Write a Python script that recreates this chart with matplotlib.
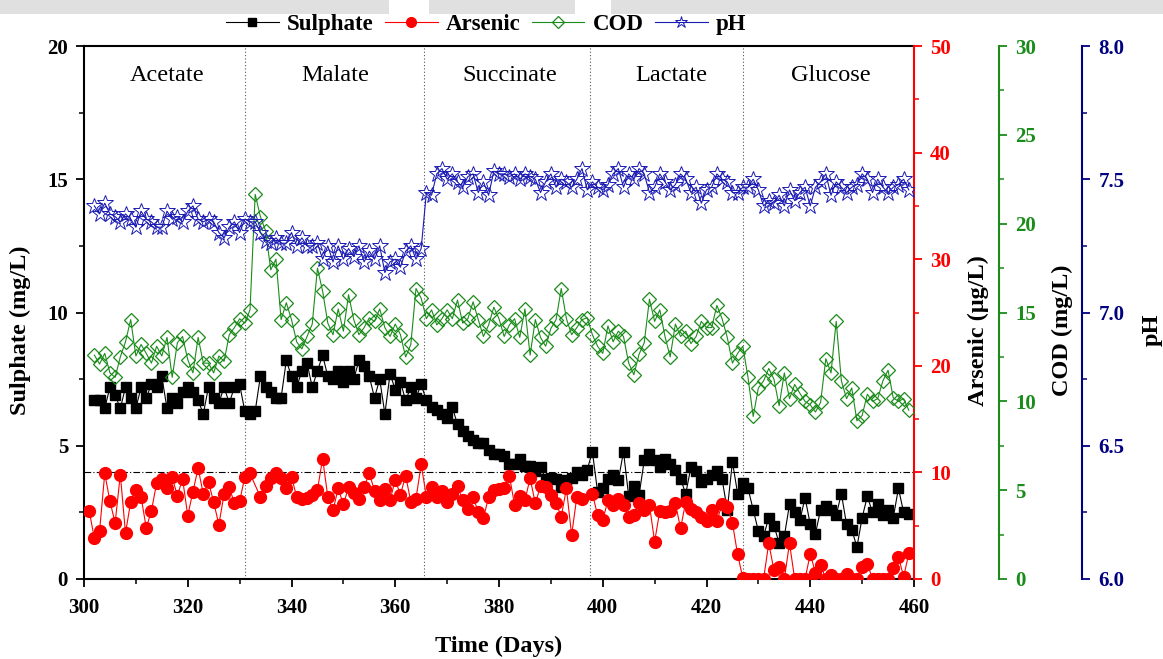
import numpy as np
import matplotlib
matplotlib.use('Agg')
import matplotlib.pyplot as plt
from matplotlib.ticker import MultipleLocator, FormatStrFormatter
from matplotlib.lines import Line2D
from matplotlib.patches import Rectangle
import matplotlib.transforms as mtransforms

# ---------------- data ----------------
days = np.arange(302, 460)                       # sulphate, COD, pH sampling days
arsenic_days = np.r_[301:333, 334:397, 398:460]  # arsenic sampling days

sulphate = [6.7, 6.7, 6.4, 7.2, 6.9, 6.4, 7.2, 6.8, 6.4, 7.2, 6.8, 7.3, 7.2, 7.6, 6.4, 6.8,
            6.6, 7.0, 7.2, 7.0, 6.7, 6.2, 7.2, 6.8, 6.6, 7.2, 6.6, 7.2, 7.3, 6.3, 6.2,
            6.3,
            7.6, 7.2, 7.0, 6.8, 6.8, 8.2, 7.6, 7.2, 7.8, 8.1, 7.2, 7.8, 8.4, 7.6, 7.5,
            7.8, 7.4, 7.8, 7.5, 8.2, 8.0, 7.6, 6.8, 7.5, 6.2, 7.7, 7.1, 7.4, 6.7, 7.2,
            6.8, 7.3,
            6.7, 6.45, 6.35, 6.2, 6.05, 6.45, 5.8, 5.55, 5.35, 5.2, 5.1, 5.1, 4.85, 4.7,
            4.7, 4.6, 4.3, 4.3, 4.5, 4.25, 4.25, 4.05, 4.2, 3.75, 3.8, 3.75, 3.45, 3.7,
            3.8, 4.0, 3.9,
            4.1, 4.78, 3.28, 3.4, 3.75, 3.9, 3.7, 4.78, 3.1, 3.5, 3.15, 4.45, 4.7, 4.45,
            4.2, 4.5, 4.3, 4.1, 3.75, 3.2, 4.2, 4.05, 3.65, 3.75, 3.9, 4.05, 3.75, 2.6, 4.4,
            3.2, 3.6, 3.4, 2.6,
            1.8, 1.6, 2.3, 2.0, 1.35, 1.6, 2.8, 2.5, 2.2, 3.05, 2.05, 1.7, 2.6, 2.75, 2.6,
            2.4, 3.2, 2.05, 1.85, 1.2, 2.3, 3.1, 2.5, 2.8, 2.4, 2.6, 2.3, 3.4, 2.5, 2.45]

arsenic = [6.4, 3.8, 4.5, 9.9, 7.3, 5.25, 9.8, 4.3, 7.25, 8.35, 7.7, 4.8, 6.4, 9.0, 9.4, 8.5,
           9.55, 7.8, 9.4, 5.95, 8.2, 10.4, 7.95, 9.1, 7.2, 5.1, 7.95, 8.6, 7.1, 7.3, 9.55, 9.9,
           7.7, 8.75, 9.5, 9.9, 9.45, 8.5, 9.6, 7.7, 7.55, 7.6, 7.9, 8.35, 11.3, 7.7, 6.45,
           8.5, 7.0, 8.6, 8.1, 7.55, 8.65, 9.9, 8.3, 7.4, 8.4, 7.4, 9.3, 7.9, 9.7, 7.25, 7.55,
           10.75,
           7.7, 8.6, 7.7, 8.3, 7.25, 8.0, 8.7, 7.4, 6.6, 7.7, 6.3, 5.7, 7.7, 8.35, 8.4, 8.5,
           9.7, 6.95, 7.8, 7.4, 9.45, 7.1, 8.7, 8.6, 7.9, 7.1, 5.85, 8.5, 4.1, 7.7,
           7.55,
           8.0, 6.0, 5.5, 7.4, 6.95, 7.55, 6.95, 5.85, 6.0, 7.1, 6.45, 6.95, 3.5, 6.4, 6.3,
           6.4, 7.1, 4.75, 7.25, 6.6, 6.3, 5.85, 5.4, 6.45, 5.45, 7.0, 6.8, 5.25, 2.3, 0.1,
           0, 0, 0, 0, 3.35, 0.85, 1.15, 0, 3.35, 0, 0, 0, 2.35, 0.6, 1.3, 0, 0.4, 0, 0,
           0.5, 0, 0, 1.15, 1.45, 0, 0, 0, 0, 1.0, 2.1, 0.2, 2.4]

cod = [12.6, 12.1, 12.7, 11.6, 11.35, 12.5, 13.35, 14.6, 12.55, 13.2, 12.7, 12.15, 13.1,
       12.55, 13.6, 11.35, 13.3, 13.65, 12.35, 11.6, 13.6, 12.15, 12.15, 11.6, 12.55, 12.25,
       13.75, 14.15, 14.65, 14.4, 15.15,
       21.65,
       20.4, 19.6, 17.4, 18.0, 14.6, 15.55, 14.6, 13.35, 12.95, 13.65, 14.35, 17.5, 16.2,
       14.4, 13.75, 15.2, 13.95, 16.0, 14.6, 13.75, 14.15, 14.7, 14.5, 15.2, 14.15, 13.65,
       14.35, 13.75, 12.5, 13.2, 16.35,
       15.8,
       14.65, 15.15, 14.3, 14.65, 15.15, 14.65, 15.7, 14.4, 14.65, 15.6, 14.6, 13.65, 14.3,
       15.3, 14.65, 13.65, 14.3, 14.65, 13.6, 15.2, 12.6, 14.6, 13.6, 13.1, 14.1, 14.6,
       16.35, 14.65, 13.75, 14.15, 14.6,
       14.7, 13.75, 13.1, 12.7, 14.25, 13.35, 13.95, 13.65, 12.15, 11.5, 12.65, 13.3, 15.75,
       14.5, 15.15, 13.65, 12.5, 14.35, 13.65, 13.95, 13.25, 13.65, 14.5, 14.15, 14.15,
       15.4, 14.65, 13.6, 12.15, 12.7, 13.1,
       11.35, 9.15,
       10.75, 11.15, 11.85, 11.25, 9.75, 11.6, 10.15, 10.95, 10.45, 10.0, 9.8, 9.4, 9.95,
       12.4, 11.6, 14.5, 11.15, 10.15, 10.75, 8.9, 9.2, 10.4, 10.0, 10.15, 11.15, 11.75,
       10.2, 10.0, 10.15, 9.5]

ph = [7.40, 7.37, 7.41, 7.37, 7.36, 7.34, 7.37, 7.35, 7.32, 7.38, 7.35, 7.34, 7.32, 7.32,
      7.38, 7.35, 7.36, 7.34, 7.38, 7.40, 7.35, 7.34, 7.35, 7.34, 7.30, 7.28, 7.32, 7.34,
      7.30, 7.35, 7.34,
      7.34, 7.30, 7.27, 7.26, 7.28, 7.26, 7.26, 7.30, 7.25, 7.28, 7.25, 7.25, 7.26, 7.20,
      7.25, 7.19, 7.25, 7.20, 7.24, 7.21, 7.25, 7.19, 7.23, 7.20, 7.25, 7.15, 7.19, 7.20,
      7.17, 7.23, 7.25, 7.20,
      7.24, 7.45, 7.44,
      7.52, 7.54, 7.50, 7.52, 7.49, 7.47, 7.51, 7.52, 7.45, 7.49, 7.44, 7.53, 7.52, 7.52,
      7.51, 7.52, 7.50, 7.52, 7.51, 7.50, 7.45, 7.49, 7.52, 7.47, 7.50, 7.49, 7.47, 7.50,
      7.54,
      7.46, 7.49, 7.47, 7.46, 7.48, 7.52, 7.54, 7.47, 7.52, 7.50, 7.54, 7.52, 7.45, 7.47,
      7.52, 7.49, 7.46, 7.48, 7.52, 7.50, 7.45, 7.47, 7.41, 7.46, 7.47, 7.52, 7.50, 7.49,
      7.45, 7.45, 7.47, 7.47,
      7.50, 7.46, 7.40, 7.42, 7.41, 7.44, 7.40, 7.46, 7.42, 7.45, 7.47, 7.40, 7.47, 7.49,
      7.52, 7.44, 7.49, 7.47, 7.45, 7.47, 7.48, 7.52, 7.50, 7.45, 7.50, 7.47, 7.45, 7.47,
      7.48, 7.50, 7.46]

phase_names = ['Acetate', 'Malate', 'Succinate', 'Lactate', 'Glucose']
phase_label_x = [316, 348.5, 382, 413.3, 444]
phase_bounds = [331, 365.5, 397.5, 427]
arsenic_limit = 10

# ---------------- style ----------------
RED = '#ff0000'
GREEN = '#1a8c1a'
NAVY = '#000080'
STAR = '#1a1ab4'
plt.rcParams['font.family'] = ['Liberation Serif', 'DejaVu Serif']
TICK_FS = 15
LAB_FS = 17.5
LAB_Y = 0.467

fig = plt.figure(figsize=(11.63, 6.59), dpi=100)

# scan-like grey strip at top
for x0, x1 in [(0, 389), (429, 575), (611, 1163)]:
    fig.patches.append(Rectangle((x0 / 1163, 1 - 14 / 659), (x1 - x0) / 1163, 14 / 659,
                                 transform=fig.transFigure, facecolor='#e0e0e0',
                                 edgecolor='none', zorder=0))

ax = fig.add_axes([84 / 1163, 1 - 579 / 659, 830 / 1163, 533 / 659])
ax.set_xlim(300, 460)
ax.set_ylim(0, 20)

ax2 = ax.twinx()
ax2.set_ylim(0, 50)
ax3 = ax.twinx()
ax3.set_ylim(0, 30)
ax3.spines['right'].set_position(('axes', 1.1028))
ax4 = ax.twinx()
ax4.set_ylim(6, 8)
ax4.spines['right'].set_position(('axes', 1.2028))

for a in (ax2, ax3, ax4):
    for s in ('left', 'top', 'bottom'):
        a.spines[s].set_visible(False)

for s in ax.spines.values():
    s.set_linewidth(1.5)
ax.spines['right'].set_visible(False)
ax2.spines['right'].set_color(RED)
ax3.spines['right'].set_color(GREEN)
ax4.spines['right'].set_color(NAVY)
for a in (ax2, ax3, ax4):
    a.spines['right'].set_linewidth(1.5)

# reference lines
trans = mtransforms.blended_transform_factory(ax.transData, ax.transAxes)
for xb in phase_bounds:
    ax.axvline(xb, color='#555555', lw=0.8, ls=(0, (1, 2)), zorder=1)
ax2.axhline(arsenic_limit, color='black', lw=0.8, ls=(0, (6, 2, 1, 2)), zorder=1)
for name, xl in zip(phase_names, phase_label_x):
    ax.text(xl, 0.945, name, transform=trans, ha='center', va='center', fontsize=17.5)

# series
ax.plot(days, sulphate, color='black', lw=0.8, marker='s', ms=7.5, zorder=3)
ax2.plot(arsenic_days, arsenic, color=RED, lw=0.8, marker='o', ms=8.5, zorder=3)
ax3.plot(days, cod, color=GREEN, lw=0.8, marker='D', ms=7.5, mfc='none', mew=0.9, zorder=3)
ax4.plot(days, ph, color=STAR, lw=0.8, marker='*', ms=12, mfc='none', mew=0.7, zorder=3)

# ticks
ax.xaxis.set_major_locator(MultipleLocator(20))
ax.xaxis.set_minor_locator(MultipleLocator(10))
ax.yaxis.set_major_locator(MultipleLocator(5))
ax.yaxis.set_minor_locator(MultipleLocator(2.5))
ax2.yaxis.set_major_locator(MultipleLocator(10))
ax2.yaxis.set_minor_locator(MultipleLocator(5))
ax3.yaxis.set_major_locator(MultipleLocator(5))
ax3.yaxis.set_minor_locator(MultipleLocator(2.5))
ax4.yaxis.set_major_locator(MultipleLocator(0.5))
ax4.yaxis.set_minor_locator(MultipleLocator(0.25))
ax4.yaxis.set_major_formatter(FormatStrFormatter('%.1f'))

ax.tick_params(axis='both', which='major', direction='out', length=5.5, width=1.3,
               labelsize=TICK_FS, pad=6)
ax.tick_params(axis='x', which='major', pad=8)
ax.tick_params(axis='both', which='minor', direction='out', length=3.5, width=1.1)
ax.tick_params(axis='y', which='both', right=False)
for a, c in ((ax2, RED), (ax3, GREEN), (ax4, NAVY)):
    a.tick_params(axis='y', which='major', direction='out', length=5.5, width=1.3,
                  colors=c, labelsize=TICK_FS, pad=6)
    a.tick_params(axis='y', which='minor', direction='out', length=3.5, width=1.1, colors=c)

for a in (ax, ax2, ax3, ax4):
    for lab in a.get_xticklabels() + a.get_yticklabels():
        lab.set_fontweight('bold')

# axis labels
ax.set_xlabel('Time (Days)', fontsize=LAB_FS, fontweight='bold')
ax.xaxis.set_label_coords(0.5, -0.107)
ax.set_ylabel('Sulphate (mg/L)', fontsize=LAB_FS, fontweight='bold')
ax.yaxis.set_label_coords(-0.064, LAB_Y)
ax2.set_ylabel('Arsenic (\u03bcg/L)', fontsize=LAB_FS, fontweight='bold')
ax2.yaxis.set_label_coords(1.065, LAB_Y)
ax3.set_ylabel('COD (mg/L)', fontsize=LAB_FS, fontweight='bold')
ax3.yaxis.set_label_coords(1.166, LAB_Y)
ax4.set_ylabel('pH', fontsize=LAB_FS, fontweight='bold')
ax4.yaxis.set_label_coords(1.274, LAB_Y)

# legend
handles = [
    Line2D([], [], color='black', lw=0.8, marker='s', ms=6),
    Line2D([], [], color=RED, lw=0.8, marker='o', ms=7),
    Line2D([], [], color=GREEN, lw=0.8, marker='D', ms=6.5, mfc='none', mew=0.9),
    Line2D([], [], color=STAR, lw=0.8, marker='*', ms=9, mfc='none', mew=0.7),
]
fig.legend(handles, ['Sulphate', 'Arsenic', 'COD', 'pH'], loc='center',
           bbox_to_anchor=(486 / 1163, 1 - 24 / 659), ncol=4, frameon=False,
           prop={'weight': 'bold', 'size': 16.5}, handlelength=2.3, handletextpad=0.35,
           columnspacing=0.5, borderpad=0.1)

fig.savefig('out.png', dpi=100)
